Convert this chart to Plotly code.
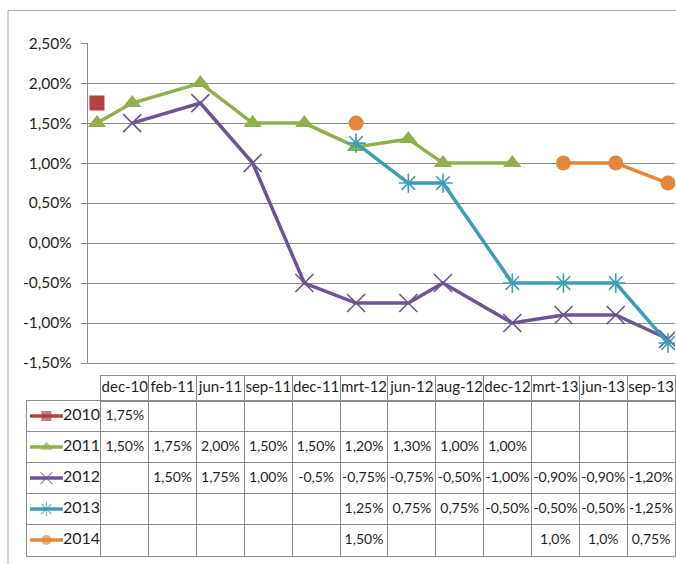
import plotly.graph_objects as go

W, H = 676, 564

# ---------------- data ----------------
dates = ["2010-12-01", "2011-02-01", "2011-06-01", "2011-09-01", "2011-12-01", "2012-03-01",
         "2012-06-01", "2012-08-01", "2012-12-01", "2013-03-01", "2013-06-01", "2013-09-01"]
date_labels = ["dec-10", "feb-11", "jun-11", "sep-11", "dec-11", "mrt-12",
               "jun-12", "aug-12", "dec-12", "mrt-13", "jun-13", "sep-13"]

series_names = ["2010", "2011", "2012", "2013", "2014"]
v2010 = [1.75, None, None, None, None, None, None, None, None, None, None, None]
v2011 = [1.50, 1.75, 2.00, 1.50, 1.50, 1.20, 1.30, 1.00, 1.00, None, None, None]
v2012 = [None, 1.50, 1.75, 1.00, -0.50, -0.75, -0.75, -0.50, -1.00, -0.90, -0.90, -1.20]
v2013 = [None, None, None, None, None, 1.25, 0.75, 0.75, -0.50, -0.50, -0.50, -1.25]
v2014 = [None, None, None, None, None, 1.50, None, None, None, 1.00, 1.00, 0.75]

t2010 = ["1,75%", "", "", "", "", "", "", "", "", "", "", ""]
t2011 = ["1,50%", "1,75%", "2,00%", "1,50%", "1,50%", "1,20%", "1,30%", "1,00%", "1,00%", "", "", ""]
t2012 = ["", "1,50%", "1,75%", "1,00%", "-0,5%", "-0,75%", "-0,75%", "-0,50%", "-1,00%", "-0,90%", "-0,90%", "-1,20%"]
t2013 = ["", "", "", "", "", "1,25%", "0,75%", "0,75%", "-0,50%", "-0,50%", "-0,50%", "-1,25%"]
t2014 = ["", "", "", "", "", "1,50%", "", "", "", "1,0%", "1,0%", "0,75%"]

y_ticks = [-1.5, -1.0, -0.5, 0.0, 0.5, 1.0, 1.5, 2.0, 2.5]
y_tick_labels = ["-1,50%", "-1,00%", "-0,50%", "0,00%", "0,50%", "1,00%", "1,50%", "2,00%", "2,50%"]

values = [v2010, v2011, v2012, v2013, v2014]
texts = [t2010, t2011, t2012, t2013, t2014]

# ---------------- styles ----------------
colors = ["#B5403F", "#8FB04C", "#6E5496", "#3E9DB5", "#E3873A"]
symbols = ["square", "triangle-up", "x-thin-open", "asterisk-open", "circle"]
msizes = [15, 16, 18, 16, 15]
key_sizes = [10, 11, 12, 12, 10]
FONT = "Lato, sans-serif"
FS = 14
TXT = "#1F1F1F"
GRID = "#8C8C8C"
BORDER = "#8C8C8C"


def py(y_px):
    """paper fraction for a target pixel row of the photographed picture"""
    y_d = (y_px - 9.0) / 0.9653
    y_d = min(max(y_d, 0.5), H - 0.5)
    return 1 - y_d / H


fig = go.Figure()

for name, vals, c, s, ms in zip(series_names, values, colors, symbols, msizes):
    fig.add_trace(go.Scatter(
        x=dates, y=vals, name=name, mode="lines+markers",
        line=dict(color=c, width=3.5),
        marker=dict(symbol=s, size=ms, color=c, line=dict(color=c, width=1.6 if "open" in s else 0)),
        connectgaps=False, xaxis="x", yaxis="y", showlegend=False,
    ))

ncol = len(date_labels)
fig.add_trace(go.Scatter(
    x=[i + 0.5 for i in range(ncol)], y=[0.5] * ncol, text=date_labels, mode="text",
    textposition="middle center", textfont=dict(family=FONT, size=FS + 1, color=TXT),
    xaxis="x2", yaxis="y2", showlegend=False, hoverinfo="skip", cliponaxis=False,
))

colw = (W - 101) / 12.0
LBL = -(101 - 27) / colw
for r, (name, txt, c, s, ks) in enumerate(zip(series_names, texts, colors, symbols, key_sizes)):
    fig.add_trace(go.Scatter(
        x=[i + 0.5 for i in range(ncol)], y=[r + 0.5] * ncol, text=txt, mode="text",
        textposition="middle center", textfont=dict(family=FONT, size=FS, color=TXT),
        xaxis="x3", yaxis="y3", showlegend=False, hoverinfo="skip", cliponaxis=False,
    ))
    kx0 = LBL + 3 / colw
    kx1 = LBL + 36 / colw
    fig.add_trace(go.Scatter(
        x=[kx0, (kx0 + kx1) / 2, kx1], y=[r + 0.5] * 3, mode="lines+markers",
        line=dict(color=c, width=3.5),
        marker=dict(symbol=s, size=[0, ks, 0], color=c,
                    line=dict(color=c, width=1.2 if "open" in s else 0)),
        xaxis="x3", yaxis="y3", showlegend=False, hoverinfo="skip",
    ))
    fig.add_trace(go.Scatter(
        x=[kx1], y=[r + 0.5], text=[name], mode="text", textposition="middle right",
        textfont=dict(family=FONT, size=FS + 2, color=TXT),
        xaxis="x3", yaxis="y3", showlegend=False, hoverinfo="skip", cliponaxis=False,
    ))

fig.update_layout(
    width=W, height=H,
    margin=dict(l=0, r=0, t=0, b=0),
    paper_bgcolor="white", plot_bgcolor="white",
    showlegend=False,
    font=dict(family=FONT, size=FS, color=TXT),
    xaxis=dict(
        type="date", domain=[88 / W, 1], range=["2010-11-15", "2013-09-13 07:00"],
        showticklabels=False, showgrid=False, zeroline=False,
        showline=True, linecolor=GRID, linewidth=1, ticks="", anchor="y",
    ),
    yaxis=dict(
        domain=[py(361), py(42)], range=[-1.5, 2.5],
        tickvals=y_ticks, ticktext=y_tick_labels,
        tickfont=dict(family=FONT, size=FS + 1.5, color=TXT),
        showgrid=True, gridcolor=GRID, gridwidth=1, zeroline=False,
        showline=True, linecolor=GRID, linewidth=1,
        ticks="outside", ticklen=6, tickcolor=GRID, ticklabelstandoff=6,
        anchor="x",
    ),
    xaxis2=dict(
        domain=[101 / W, 1], range=[0, 12], tickvals=list(range(1, 12)),
        showticklabels=False, showgrid=True, gridcolor=BORDER, zeroline=False,
        showline=True, mirror=True, linecolor=BORDER, ticks="", anchor="y2",
    ),
    yaxis2=dict(
        domain=[py(398.5), py(374)], range=[0, 1],
        showticklabels=False, showgrid=False, zeroline=False,
        showline=True, mirror=True, linecolor=BORDER, ticks="", anchor="x2",
    ),
    xaxis3=dict(
        domain=[27 / W, 1], range=[LBL, 12], tickvals=list(range(0, 12)),
        showticklabels=False, showgrid=True, gridcolor=BORDER, zeroline=False,
        showline=True, mirror=True, linecolor=BORDER, ticks="", anchor="y3",
    ),
    yaxis3=dict(
        domain=[py(561), py(398.5)], range=[5, 0], tickvals=[1, 2, 3, 4],
        showticklabels=False, showgrid=True, gridcolor=BORDER, zeroline=False,
        showline=True, mirror=True, linecolor=BORDER, ticks="", anchor="x3",
    ),
    shapes=[
        dict(type="rect", xref="paper", yref="paper",
             x0=8 / W, x1=1.05, y0=-0.05, y1=py(8),
             line=dict(color="#A6A6A6", width=1), layer="below"),
    ],
)

fig.write_html(
    "out.html",
    config={"displayModeBar": False},
    post_script=(
        "var gd=document.getElementById('{plot_id}');"
        "gd.style.position='fixed';gd.style.top='0px';gd.style.left='0px';"
        "document.body.style.margin='0';document.body.style.padding='0';"
        "document.body.style.overflow='hidden';"
        "document.documentElement.style.overflow='hidden';"
    ),
)
